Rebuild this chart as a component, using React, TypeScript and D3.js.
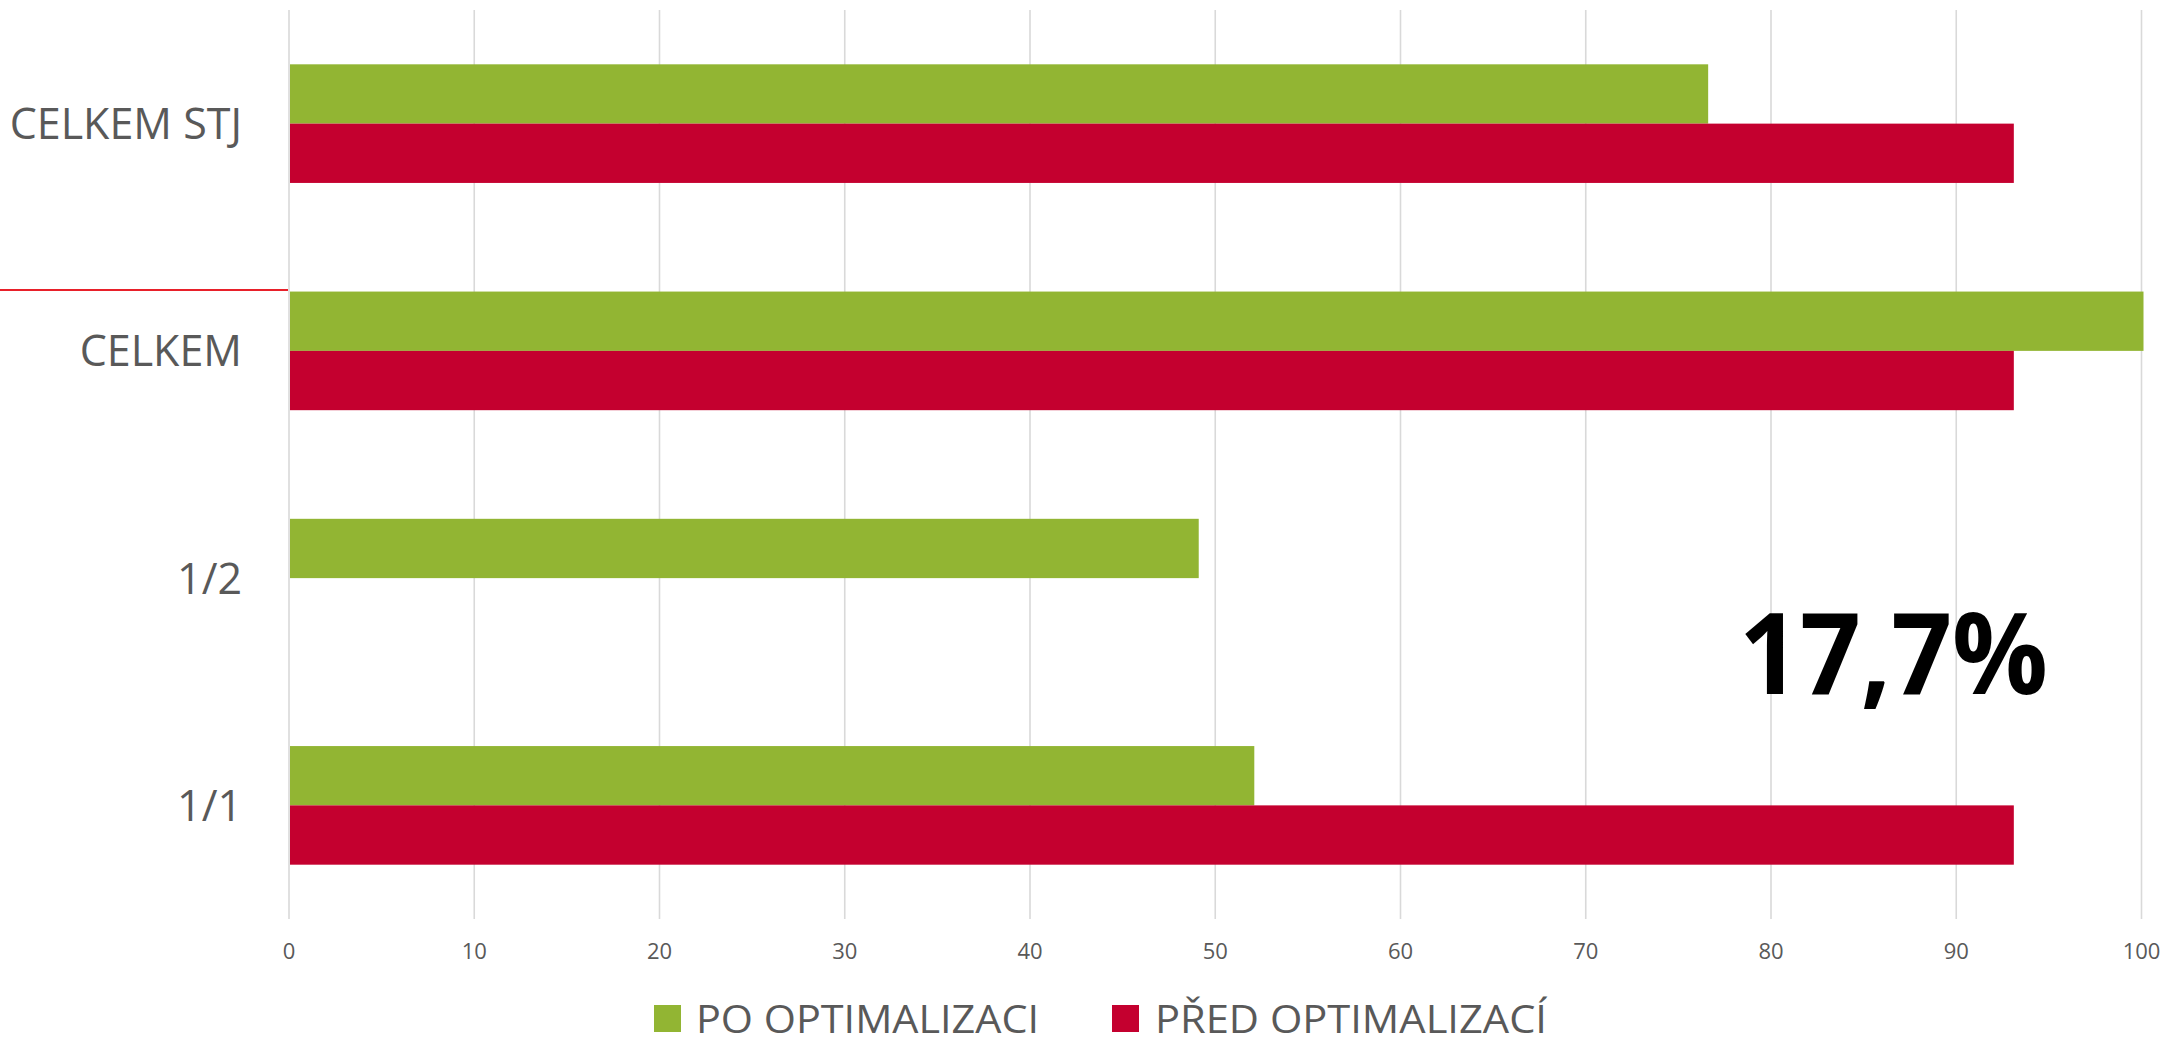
import * as d3 from "d3"

const categories = ["CELKEM STJ", "CELKEM", "1/2", "1/1"]
const poOptimalizaci = [76.5, 100, 49, 52]
const predOptimalizaci: (number | null)[] = [93, 93, null, 93]
const seriesNames = ["PO OPTIMALIZACI", "PŘED OPTIMALIZACÍ"]
const seriesColors = ["#92B533", "#C4002F"]
const xTicks = [0, 10, 20, 30, 40, 50, 60, 70, 80, 90, 100]
const highlight = "17,7%"

const W = 2166
const H = 1038
const FONT = "'Open Sans', 'DejaVu Sans', sans-serif"

const App = () => {
  const x = d3.scaleLinear().domain([0, 100]).range([289, 2141.5])
  const y = d3.scaleBand<string>()
    .domain(categories)
    .range([10, 919])
    .paddingInner(0.478)
    .paddingOuter(0.239)
  const inner = d3.scaleBand<string>()
    .domain(seriesNames)
    .range([0, y.bandwidth()])

  const values = [poOptimalizaci, predOptimalizaci]

  return (
    <svg width={W} height={H} style={{ position: "absolute", left: 0, top: 0, display: "block", background: "#fff" }}>
      {/* gridlines */}
      {xTicks.map(t => (
        <line key={t} x1={x(t)} x2={x(t)} y1={10} y2={919} stroke="#d9d9d9" strokeWidth={1.6} />
      ))}

      {/* bars */}
      {categories.map((c, i) => (
        <g key={c} transform={`translate(0, ${y(c)})`}>
          {seriesNames.map((s, j) => {
            const v = values[j][i]
            if (v == null) return null
            return (
              <rect
                key={s}
                x={x(0) + 1}
                y={inner(s)}
                width={x(v) - x(0) + 1}
                height={inner.bandwidth()}
                fill={seriesColors[j]}
              />
            )
          })}
        </g>
      ))}

      {/* red marker line */}
      <line x1={0} x2={x(0) - 1} y1={y("CELKEM")! - 1.5} y2={y("CELKEM")! - 1.5} stroke="#e8202a" strokeWidth={2} />

      {/* category labels */}
      {categories.map(c => (
        <text
          key={c}
          x={242}
          y={y(c)! + y.bandwidth() / 2}
          dy="0.36em"
          textAnchor="end"
          fontFamily={FONT}
          fontSize={43}
          fill="#595959"
        >
          {c}
        </text>
      ))}

      {/* x tick labels */}
      {xTicks.map(t => (
        <text key={t} x={x(t)} y={959} textAnchor="middle" fontFamily={FONT} fontSize={22} fill="#595959">
          {t}
        </text>
      ))}

      {/* big annotation */}
      <text x={1739} y={694} fontFamily={FONT} fontWeight={700} fontSize={113} fill="#000"
        textLength={309} lengthAdjust="spacingAndGlyphs">
        {highlight}
      </text>

      {/* legend */}
      <g>
        <rect x={654} y={1005} width={27} height={27} fill={seriesColors[0]} />
        <text x={696} y={1033} fontFamily={FONT} fontSize={39} fill="#595959" textLength={343} lengthAdjust="spacingAndGlyphs">
          {seriesNames[0]}
        </text>
        <rect x={1112} y={1005} width={27} height={27} fill={seriesColors[1]} />
        <text x={1155} y={1033} fontFamily={FONT} fontSize={39} fill="#595959" textLength={392} lengthAdjust="spacingAndGlyphs">
          {seriesNames[1]}
        </text>
      </g>
    </svg>
  )
}

export default App
